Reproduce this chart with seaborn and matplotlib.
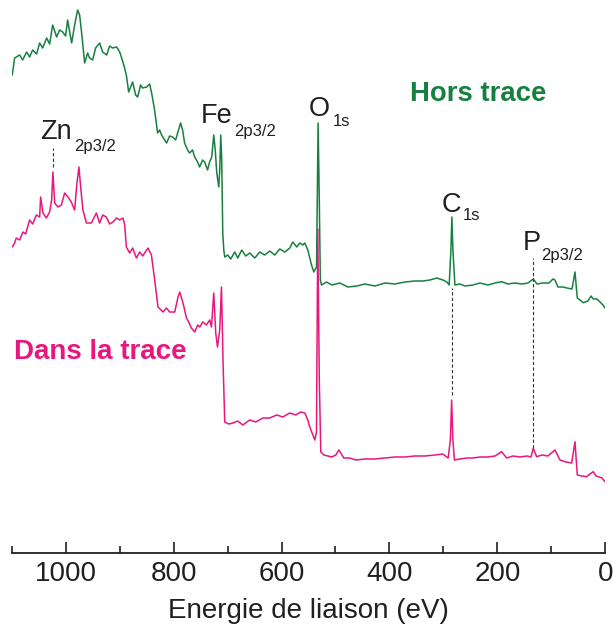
import numpy as np
import pandas as pd
import matplotlib
matplotlib.use("Agg")
import matplotlib.pyplot as plt
from matplotlib.ticker import MultipleLocator, FixedLocator
import seaborn as sns

# ---- data (binding energy eV, intensity a.u.) ----
hors_energy = [1099, 1094.6, 1085.3, 1079.8, 1072.3, 1066.8, 1061.2, 1053.8, 1048.2, 1042.6,
               1035.2, 1029.7, 1024.1, 1016.7, 1011.2, 1005.6, 1000.1, 996.4, 988.9, 983.4,
               977.8, 974.1, 970.4, 964.8, 959.3, 955.6, 950.0, 944.5, 937.0, 931.5,
               924.1, 918.5, 913.0, 905.5, 899.9, 896.2, 890.7, 887.0, 883.3, 875.9,
               870.3, 866.6, 861.1, 857.4, 850.0, 844.4, 840.7, 835.2, 829.6, 825.9,
               822.2, 816.6, 812.9, 807.4, 801.8, 796.2, 792.5, 787.0, 783.3, 779.6,
               774.0, 770.3, 764.8, 761.0, 755.5, 751.8, 746.2, 742.5, 737.0, 733.3,
               729.3, 725.6, 722.8, 720.0, 716.3, 714.5, 712.6, 710.8, 708.9, 707.0,
               705.2, 699.6, 694.1, 686.7, 681.1, 673.7, 666.3, 658.8, 649.6, 640.3,
               631.0, 621.8, 612.5, 603.2, 593.9, 584.7, 579.1, 571.7, 566.1, 560.5,
               556.8, 551.3, 544.4, 540.2, 535.1, 532.2, 530.0, 528.1, 525.9, 516.6,
               506.8, 491.9, 477.1, 460.4, 445.6, 427.0, 408.5, 390.0, 371.4, 352.9,
               338.0, 325.1, 312.1, 301.0, 293.5, 289.3, 286.1, 284.3, 282.4, 278.7,
               269.4, 260.2, 245.3, 232.4, 217.5, 204.5, 192.1, 180.4, 167.4, 154.5,
               143.3, 133.5, 126.6, 115.5, 104.4, 97.0, 93.3, 87.7, 78.4, 71.0,
               61.7, 56.2, 51.9, 46.9, 40.8, 32.1, 26.5, 22.3, 15.4, 9.8,
               4.3, 0.6]
hors_intensity = [477.7, 494.7, 497.7, 492.7, 500.7, 495.7, 502.7, 498.7, 509.7, 504.7,
                  514.7, 508.7, 527.7, 515.7, 522.7, 520.7, 516.7, 532.7, 509.7, 527.7,
                  542.7, 537.7, 519.7, 489.7, 499.7, 494.7, 492.7, 504.7, 509.7, 500.7,
                  497.7, 506.7, 504.7, 505.7, 500.7, 494.7, 484.7, 475.7, 460.7, 470.7,
                  457.7, 455.7, 467.7, 464.7, 465.7, 468.7, 459.7, 442.7, 419.7, 422.7,
                  417.7, 412.7, 409.7, 416.7, 415.7, 412.7, 419.7, 429.7, 422.7, 409.7,
                  402.7, 399.7, 402.7, 395.7, 390.7, 385.7, 392.7, 390.7, 382.7, 390.7,
                  395.7, 417.7, 402.7, 379.7, 365.7, 382.7, 417.7, 392.7, 319.7, 302.7,
                  295.7, 297.7, 293.7, 300.7, 294.7, 302.7, 296.7, 299.7, 294.7, 300.7,
                  297.7, 301.7, 297.7, 303.7, 300.7, 304.7, 310.7, 305.7, 309.7, 307.7,
                  309.7, 302.7, 287.7, 280.7, 285.7, 429.7, 352.7, 272.7, 267.7, 270.7,
                  267.7, 269.7, 265.7, 266.7, 268.7, 266.7, 269.7, 268.7, 270.7, 271.7,
                  271.7, 272.7, 274.7, 272.7, 270.7, 267.7, 302.7, 335.7, 302.7, 267.7,
                  268.7, 266.7, 267.7, 269.7, 267.7, 269.7, 271.0, 268.7, 269.7, 268.7,
                  269.7, 273.7, 268.7, 269.7, 269.7, 273.7, 272.7, 265.7, 265.7, 264.7,
                  263.7, 280.7, 254.7, 252.7, 250.0, 251.7, 256.7, 253.7, 253.7, 250.7,
                  247.7, 244.7]

dans_energy = [1098.9, 1094.6, 1091.5, 1085.3, 1079.2, 1074.2, 1066.8, 1061.2, 1054.4, 1048.2,
               1046.4, 1042.1, 1035.8, 1029.7, 1026.0, 1023.6, 1020.4, 1014.3, 1008.0, 1001.9,
               995.8, 989.5, 983.4, 979.1, 975.4, 972.2, 968.0, 961.6, 952.4, 943.1,
               937.0, 931.4, 924.6, 918.5, 912.3, 905.5, 899.9, 893.8, 890.6, 887.5,
               881.4, 875.8, 868.9, 862.8, 857.3, 847.4, 841.1, 835.0, 828.9, 819.6,
               813.3, 807.2, 797.9, 791.8, 788.6, 782.5, 776.2, 772.0, 767.0, 760.8,
               755.3, 751.5, 746.0, 739.1, 733.0, 729.8, 725.6, 721.9, 718.7, 714.5,
               711.3, 708.3, 705.2, 697.8, 689.8, 681.1, 671.8, 658.8, 647.7, 634.7,
               621.8, 608.8, 597.6, 584.7, 573.5, 564.3, 556.8, 551.3, 547.6, 542.0,
               538.3, 535.2, 532.8, 530.0, 527.2, 521.6, 506.8, 499.4, 493.8, 484.5,
               473.4, 462.3, 445.6, 427.0, 408.5, 390.0, 371.4, 352.9, 334.3, 315.8,
               301.0, 291.2, 287.1, 284.8, 282.4, 279.6, 269.4, 256.5, 245.3, 232.4,
               217.5, 204.5, 192.1, 182.8, 171.1, 158.2, 145.2, 137.8, 133.5, 127.2,
               117.4, 106.3, 93.3, 84.0, 72.9, 62.3, 56.2, 51.9, 43.2, 34.5,
               28.4, 22.3, 17.2, 13.0, 6.1, 0.6]
dans_intensity = [305.7, 309.7, 314.7, 312.7, 320.7, 318.7, 332.7, 328.7, 337.7, 335.7,
                  355.7, 339.7, 334.7, 340.7, 352.7, 380.7, 349.7, 345.7, 347.7, 359.7,
                  355.7, 350.7, 342.7, 369.7, 385.7, 365.7, 342.7, 329.7, 329.7, 339.7,
                  329.7, 337.7, 335.7, 328.7, 330.7, 334.7, 332.7, 334.7, 327.7, 305.7,
                  299.7, 304.7, 294.7, 300.7, 296.7, 304.7, 297.7, 272.7, 245.7, 240.7,
                  244.7, 240.7, 240.7, 255.7, 260.7, 249.7, 234.7, 230.7, 224.7, 220.7,
                  227.7, 225.7, 230.7, 227.7, 232.7, 225.7, 259.7, 219.7, 205.7, 222.7,
                  265.7, 189.7, 130.7, 128.7, 129.7, 131.7, 127.7, 132.7, 130.7, 134.7,
                  134.7, 137.7, 135.7, 139.7, 137.7, 140.7, 139.7, 132.7, 125.7, 117.7,
                  112.7, 120.7, 323.7, 172.7, 100.7, 97.7, 95.7, 97.7, 102.7, 94.7,
                  94.7, 92.7, 93.7, 93.7, 94.7, 95.7, 95.7, 96.7, 96.7, 97.7,
                  98.7, 94.7, 112.7, 152.7, 112.7, 92.7, 93.7, 94.7, 94.7, 95.7,
                  95.7, 96.7, 101.0, 94.7, 96.7, 95.7, 96.7, 95.7, 104.4, 96.0,
                  97.7, 96.7, 102.7, 92.7, 90.7, 89.7, 111.0, 77.7, 76.7, 76.0,
                  78.7, 81.0, 76.7, 76.0, 74.7, 71.0]

# peak markers: element, subscript
peak_names = ["Zn", "Fe", "O", "C", "P"]
peak_subs = ["2p3/2", "2p3/2", "1s", "1s", "2p3/2"]
tick_values = [1000, 800, 600, 400, 200, 0]

GREEN = "#178040"
PINK = "#e8177e"
TXT = "#231f20"

sns.set_theme(style="white")
plt.rcParams["font.family"] = ["Liberation Sans", "DejaVu Sans"]

W, H = 613, 639
fig = plt.figure(figsize=(W / 100, H / 100), dpi=100)
x0, x1, ybot = 11.7, 605.3, 552.7
ax = fig.add_axes([x0 / W, 1 - ybot / H, (x1 - x0) / W, ybot / H])

df_h = pd.DataFrame({"E": hors_energy, "I": hors_intensity})
df_d = pd.DataFrame({"E": dans_energy, "I": dans_intensity})
sns.lineplot(data=df_h, x="E", y="I", ax=ax, color=GREEN, lw=1.1,
             estimator=None, sort=False)
sns.lineplot(data=df_d, x="E", y="I", ax=ax, color=PINK, lw=1.1,
             estimator=None, sort=False)

ax.set_xlim(1100, 0)
ax.set_ylim(0, ybot)

# dashed guide lines
ax.vlines(1023.6, 386, 405, colors="#333333", linestyles=(0, (3, 2)), lw=0.8)
ax.vlines(284.8, 158, 265, colors="#333333", linestyles=(0, (3, 2)), lw=0.8)
ax.vlines(133.5, 105, 295, colors="#333333", linestyles=(0, (3, 2)), lw=0.8)

# peak labels (main symbol + subscript), positions in data coords
main_pos = [(1048.2, 413.4), (749.7, 429.4), (549.4, 436.7), (303.4, 341.0), (153.2, 302.7)]
sub_pos = [(985.2, 402.0), (688.5, 416.7), (505.5, 426.7), (263.9, 332.7), (119.8, 292.7)]
for name, sub, (mx, my), (sx, sy) in zip(peak_names, peak_subs, main_pos, sub_pos):
    ax.text(mx, my, name, fontsize=19.5, color=TXT, ha="left", va="baseline")
    ax.text(sx, sy, sub, fontsize=12, color=TXT, ha="left", va="baseline")

ax.text(362.1, 452.0, "Hors trace", fontsize=19.8, fontweight="bold",
        color=GREEN, ha="left", va="baseline")
ax.text(1095.0, 193.4, "Dans la trace", fontsize=20, fontweight="bold",
        color=PINK, ha="left", va="baseline")

# axes styling
for side in ["top", "left", "right"]:
    ax.spines[side].set_visible(False)
ax.spines["bottom"].set_color(TXT)
ax.spines["bottom"].set_linewidth(1.3)
ax.set_yticks([])
ax.set_ylabel("")
ax.xaxis.set_major_locator(FixedLocator(tick_values))
ax.xaxis.set_minor_locator(MultipleLocator(100))
ax.set_xticklabels([str(v) for v in tick_values])
ax.tick_params(axis="x", which="major", direction="in", length=8, width=1.2,
               color=TXT, labelsize=20, labelcolor=TXT, pad=6, bottom=True)
ax.tick_params(axis="x", which="minor", direction="in", length=5, width=1.2,
               color=TXT, bottom=True)
ax.set_xlabel("Energie de liaison (eV)", fontsize=20, color=TXT, labelpad=8)
ax.patch.set_alpha(0)

fig.savefig("out.png", dpi=100)
